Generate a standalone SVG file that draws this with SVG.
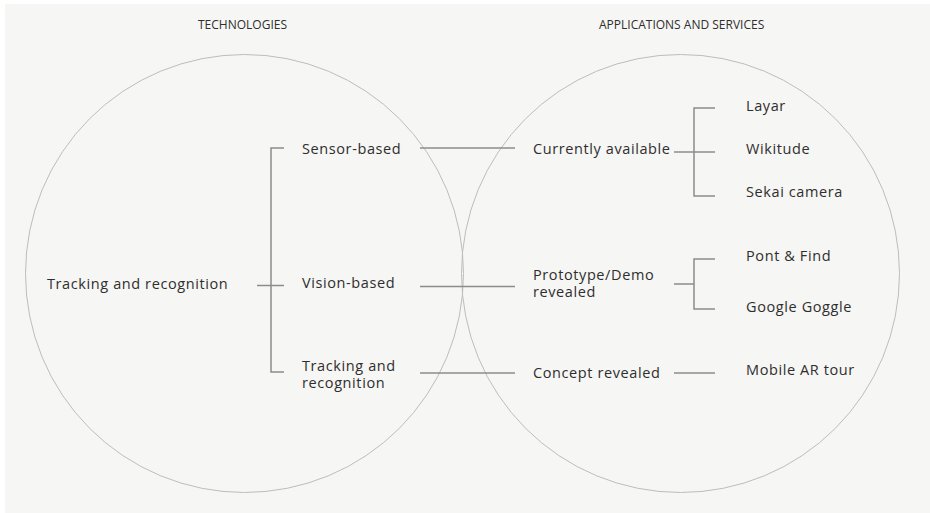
<svg xmlns="http://www.w3.org/2000/svg" width="930" height="513" viewBox="0 0 930 513">
  <style>
    .bg { fill: #f6f6f4; }
    .ring { fill: none; stroke: #bdbdbd; stroke-width: 1; }
    .link { fill: none; stroke: #8c8c8c; stroke-width: 1.5; }
    .label { font-family: "Open Sans", "Liberation Sans", sans-serif; font-size: 14.5px; letter-spacing: 0.6px; fill: #2e2e2e; }
    .head { font-family: "Open Sans", "Liberation Sans", sans-serif; font-size: 12px; fill: #2e2e2e; }
  </style>
  <rect x="0" y="0" width="930" height="513" fill="#ffffff"/>
  <rect class="bg" x="5" y="4" width="925" height="509"/>

  <!-- Venn circles -->
  <g id="circle-technologies">
    <circle class="ring" cx="244.5" cy="273.5" r="219"/>
    <text class="head" x="198" y="29">TECHNOLOGIES</text>
  </g>
  <g id="circle-applications">
    <circle class="ring" cx="680.5" cy="273.5" r="219"/>
    <text class="head" x="599" y="29">APPLICATIONS AND SERVICES</text>
  </g>

  <!-- connectors -->
  <g id="connectors">
    <!-- root to technologies bracket -->
    <path class="link" d="M257 285.5 H284"/>
    <path class="link" d="M284 148 H271 V372 H284"/>
    <!-- technologies to applications -->
    <path class="link" d="M420 148 H515"/>
    <path class="link" d="M420 286.5 H515"/>
    <path class="link" d="M420 373 H515"/>
    <!-- currently available bracket -->
    <path class="link" d="M674 152 H715"/>
    <path class="link" d="M715 108 H694 V196 H715"/>
    <!-- prototype bracket -->
    <path class="link" d="M674 284 H694"/>
    <path class="link" d="M715 259 H694 V309 H715"/>
    <!-- concept line -->
    <path class="link" d="M674 373 H715"/>
  </g>

  <g id="node-root">
    <text class="label" x="47" y="289">Tracking and recognition</text>
  </g>
  <g id="node-sensor">
    <text class="label" x="302" y="154">Sensor-based</text>
  </g>
  <g id="node-vision">
    <text class="label" x="302" y="288">Vision-based</text>
  </g>
  <g id="node-tracking">
    <text class="label" x="302" y="371">Tracking and<tspan x="302" dy="17">recognition</tspan></text>
  </g>
  <g id="node-current">
    <text class="label" x="533" y="154">Currently available</text>
  </g>
  <g id="node-prototype">
    <text class="label" x="533" y="280">Prototype/Demo<tspan x="533" dy="17">revealed</tspan></text>
  </g>
  <g id="node-concept">
    <text class="label" x="533" y="378">Concept revealed</text>
  </g>
  <g id="node-layar">
    <text class="label" x="746" y="111">Layar</text>
  </g>
  <g id="node-wikitude">
    <text class="label" x="746" y="154">Wikitude</text>
  </g>
  <g id="node-sekai">
    <text class="label" x="746" y="197">Sekai camera</text>
  </g>
  <g id="node-pont">
    <text class="label" x="746" y="261">Pont &amp; Find</text>
  </g>
  <g id="node-google">
    <text class="label" x="746" y="312">Google Goggle</text>
  </g>
  <g id="node-mobile">
    <text class="label" x="746" y="375">Mobile AR tour</text>
  </g>
</svg>
